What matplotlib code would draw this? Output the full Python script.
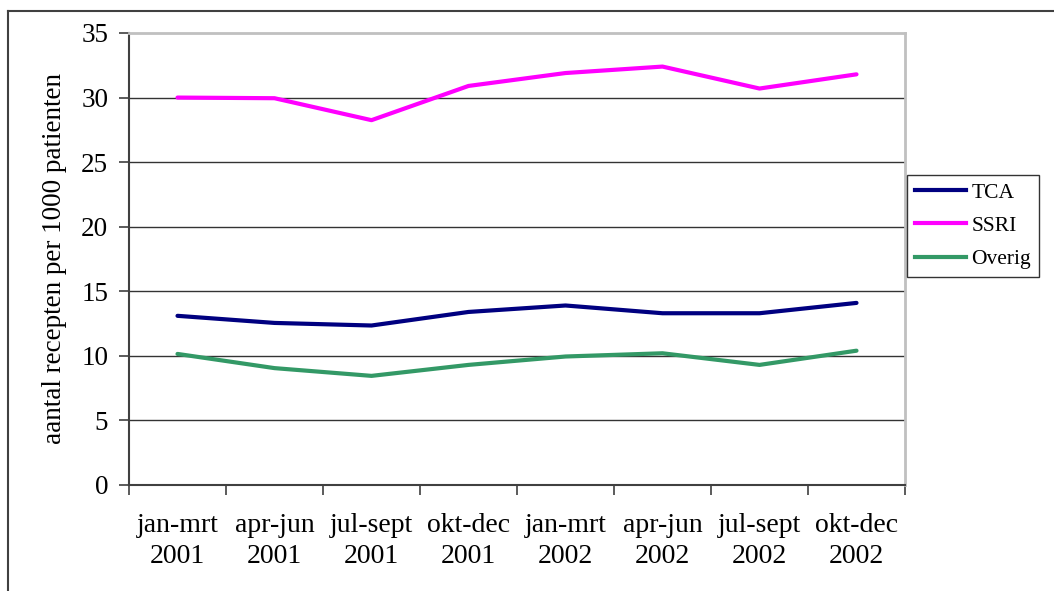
import matplotlib
matplotlib.use("Agg")
import matplotlib.pyplot as plt
from matplotlib.lines import Line2D

plt.rcParams['font.family'] = ['Liberation Serif', 'DejaVu Serif']

periods = ["jan-mrt\n2001", "apr-jun\n2001", "jul-sept\n2001", "okt-dec\n2001",
           "jan-mrt\n2002", "apr-jun\n2002", "jul-sept\n2002", "okt-dec\n2002"]
tca = [13.1, 12.55, 12.35, 13.4, 13.9, 13.3, 13.3, 14.1]
ssri = [30.0, 29.95, 28.25, 30.9, 31.9, 32.4, 30.7, 31.8]
overig = [10.15, 9.05, 8.45, 9.3, 9.95, 10.2, 9.3, 10.4]

series = [("TCA", tca, "#000080"), ("SSRI", ssri, "#FF00FF"), ("Overig", overig, "#339966")]

W, H = 1054, 591
fig = plt.figure(figsize=(W / 100, H / 100), dpi=100)
ax = fig.add_axes([129 / W, 1 - 485 / H, (905 - 129) / W, (485 - 33) / H])

x = range(len(periods))
for name, vals, col in series:
    ax.plot(x, vals, color=col, lw=3, label=name, solid_capstyle='round', zorder=3)

ax.set_xlim(-0.5, len(periods) - 0.5)
ax.set_ylim(0, 35)
ax.set_yticks(range(0, 36, 5))
ax.set_xticks(list(x))
ax.set_xticklabels(periods, fontsize=20, linespacing=1.35)
ax.set_xticks([i - 0.5 for i in range(len(periods) + 1)], minor=True)
ax.tick_params(axis='x', which='major', length=0, pad=20)
ax.tick_params(axis='x', which='minor', length=7, width=1.2, color='#404040', direction='out')
ax.tick_params(axis='y', length=7, width=1.2, color='#404040', direction='out', pad=8, labelsize=19.5)

for v in range(5, 35, 5):
    ax.axhline(v, color='#333333', lw=1, zorder=1)

for side in ('top', 'right'):
    ax.spines[side].set_color('#c0c0c0')
    ax.spines[side].set_linewidth(2)
for side in ('left', 'bottom'):
    ax.spines[side].set_color('#404040')
    ax.spines[side].set_linewidth(1.5)

ax.set_ylabel("aantal recepten per 1000 patienten", fontsize=19.5, labelpad=10)

handles = [Line2D([0], [0], color=c, lw=3) for _, _, c in series]
leg = fig.legend(handles, [s[0] for s in series], loc='upper left',
                 bbox_to_anchor=(907 / W, 1 - 175 / H), fontsize=15.5,
                 frameon=True, fancybox=False, edgecolor='black',
                 borderpad=0.35, labelspacing=0.62, handlelength=2.4,
                 handletextpad=0.25, borderaxespad=0)
leg.get_frame().set_linewidth(1)

# outer chart frame (top and left edges)
fig.add_artist(Line2D([8 / W, 1], [1 - 11 / H, 1 - 11 / H], color='#404040', lw=1.5))
fig.add_artist(Line2D([8 / W, 8 / W], [0, 1 - 11 / H], color='#404040', lw=1.5))

fig.savefig("out.png", dpi=100)
